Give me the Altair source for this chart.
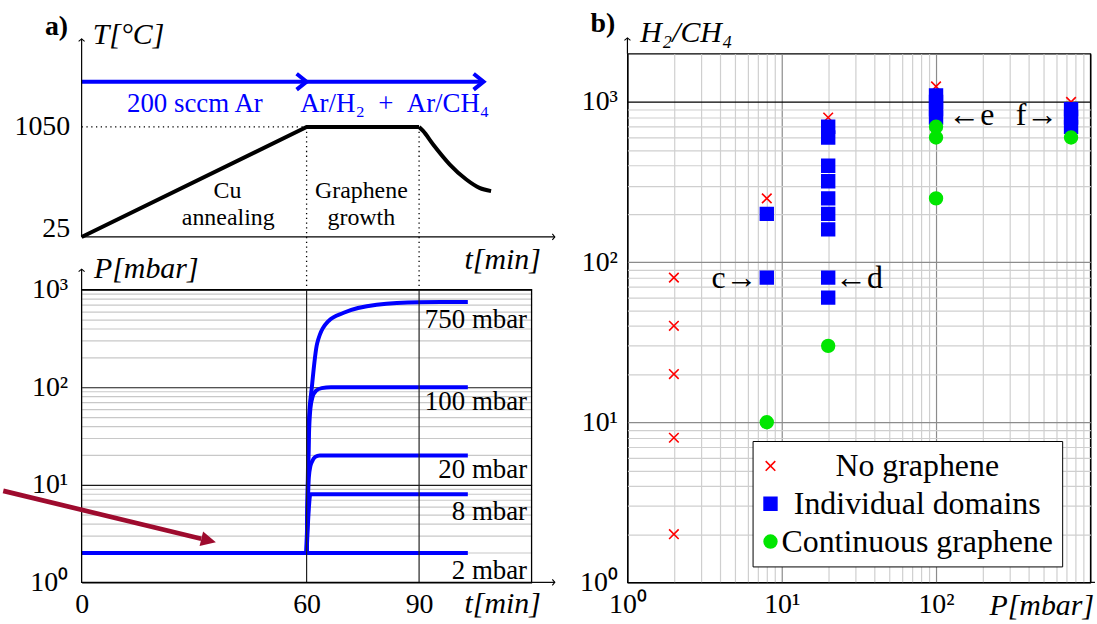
import altair as alt
import pandas as pd

FONT = "Liberation Serif"
BLUE = "#0000ff"
RED = "#ff0000"
GREEN = "#00e600"
DARKRED = "#9e0b2e"
FS = 28

# ---------------- panel a), temperature programme
ramp_t = [0, 60, 90]
ramp_T = [25, 1050, 1050]
cool_t = [90, 91, 93.8, 98.2, 102.6, 106.1, 109.2]
cool_T = [1050, 1015, 885, 700, 560, 482, 452]
T_ticks = [25, 1050]
phase_t = [60, 90]
gas_t = [0, 60, 107.2]
gas_T = 1472
gas_labels = ["200 sccm Ar", "Ar/H\u2082\u2002+\u2002Ar/CH\u2084"]
gas_label_t = [30.2, 83.5]
phase_labels = ["Cu", "annealing", "Graphene", "growth"]
phase_label_t = [38.9, 39.1, 74.6, 74.6]
phase_label_T = [387, 136, 387, 136]

# ---------------- panel a), chamber pressure
p_series = {
    "2": ([0, 103], [2, 2]),
    "8": ([60, 60.5, 61, 103], [2, 5, 8, 8]),
    "20": ([60, 60.3, 60.6, 61.0, 61.5, 62.3, 63.5, 103], [2, 6, 12, 15.5, 17.5, 19.3, 20, 20]),
    "100": ([60, 60.3, 60.6, 61.0, 61.6, 62.5, 64.0, 66.5, 103], [2, 8, 30, 60, 80, 92, 98, 100, 100]),
    "750": ([60, 60.3, 60.6, 61.4, 62.8, 65.9, 69.9, 78.7, 90, 103],
            [2, 10, 45, 100, 280, 480, 580, 700, 745, 750]),
}
p_labels = ["750 mbar", "100 mbar", "20 mbar", "8 mbar", "2 mbar"]
p_label_P = [409, 58.2, 11.8, 4.40, 1.074]
t_ticks = [0, 60, 90]
red_arrow_t = [-20.9, 31.9]
red_arrow_P = [8.67, 2.80]
red_tip_t, red_tip_P = 35.8, 2.58

# ---------------- panel b), growth map
kinds = ["No graphene", "Individual domains", "Continuous graphene"]
no_P = [2, 2, 2, 2, 2, 8, 20, 100, 750]
no_R = [80, 40, 20, 8, 2, 250, 800, 1250, 1000]
dom_P = [8, 8, 20, 20, 20, 20, 20, 20, 20, 20, 20, 100, 100, 100, 100, 750, 750, 750]
dom_R = [200, 80, 700, 600, 400, 320, 250, 200, 160, 80, 60, 1100, 1000, 900, 800, 900, 800, 700]
cont_P = [8, 20, 100, 100, 100, 750]
cont_R = [10, 30, 700, 600, 250, 600]

log_grid = [m * 10 ** e for e in range(3) for m in range(1, 10)] + [1000]
SUP = {1: "10\u2070", 10: "10\u00b9", 100: "10\u00b2", 1000: "10\u00b3"}


def sup_expr(keys):
    return " : ".join(f"datum.value == {k} ? '{SUP[k]}'" for k in keys) + " : ''"


W_L, H_L = 452, 531
W_R, H_R = 465, 531

x_t = alt.Scale(domain=[0, 120], nice=False, zero=False)
y_T = alt.Scale(domain=[25, 1732], nice=False, zero=False, range=[184, 0])
y_P = alt.Scale(type="log", domain=[1, 1000], nice=False, range=[531, 237])
x_R = alt.Scale(type="log", domain=[1, 1000], nice=False)
y_R = alt.Scale(type="log", domain=[1, 2000], nice=False)

CHEV = "M-1,-0.8L0,0L-1,0.8"
AXHEAD = "M-1,-1.2L0,0L-1,1.2"
TRI = "M0,0L-1,-0.5L-1,0.5Z"


def enc_xy(xf, yf, xsc, ysc, y_off):
    # left column: y scales are independent, so secondary layers carry no y axis;
    # x (and both axes on the right) are shared and merge with the primary layer's axis.
    y = alt.Y(f"{yf}:Q", scale=ysc, axis=None) if y_off else alt.Y(f"{yf}:Q", scale=ysc)
    return dict(x=alt.X(f"{xf}:Q", scale=xsc), y=y)


def txt(xs, ys, labels, xf, yf, xsc, ysc, y_off, **kw):
    df = pd.DataFrame({xf: xs, yf: ys, "label": labels})
    props = dict(font=FONT, fontSize=FS, color="black", baseline="alphabetic")
    props.update(kw)
    return alt.Chart(df).mark_text(**props).encode(text="label:N", **enc_xy(xf, yf, xsc, ysc, y_off))


def seg(data, xf, yf, xsc, ysc, y_off, x2=None, y2=None, **kw):
    enc = enc_xy(xf, yf, xsc, ysc, y_off)
    if x2:
        enc["x2"] = alt.X2(f"{x2}:Q")
    if y2:
        enc["y2"] = alt.Y2(f"{y2}:Q")
    return alt.Chart(pd.DataFrame(data)).mark_rule(**kw).encode(**enc)


def heads(xs, ys, xf, yf, xsc, ysc, y_off, **kw):
    df = pd.DataFrame({xf: xs, yf: ys})
    return alt.Chart(df).mark_point(opacity=1, **kw).encode(**enc_xy(xf, yf, xsc, ysc, y_off))


def grid_color(major, edge="black", minor="#c8c8c8"):
    return {"condition": [
        {"test": "datum.value == 1 || datum.value == 1000", "value": edge},
        {"test": "datum.value == 10 || datum.value == 100", "value": major}],
        "value": minor}


lab = dict(labelFont=FONT, labelFontSize=FS, labelColor="black", domain=False, ticks=False,
           labelFlush=False, labelOverlap=False, title=None)

# ================= left column, upper part: temperature
ramp = alt.Chart(pd.DataFrame({"t": ramp_t, "T": ramp_T})).mark_line(
    color="black", strokeWidth=4).encode(
    x=alt.X("t:Q", scale=x_t),
    y=alt.Y("T:Q", scale=y_T, axis=alt.Axis(
        values=T_ticks, format="d", grid=False, labelPadding=12, orient="left",
        labelBaseline={"condition": {"test": "datum.value == 25", "value": "alphabetic"}, "value": "middle"},
        **lab)))
cool = alt.Chart(pd.DataFrame({"t": cool_t, "T": cool_T})).mark_line(
    color="black", strokeWidth=4, interpolate="monotone").encode(**enc_xy("t", "T", x_t, y_T, True))
dot_h = seg({"t": [0], "t2": [60], "T": [1050]}, "t", "T", x_t, y_T, True, x2="t2",
            color="black", strokeWidth=1.3, strokeDash=[1.3, 3.5])
dot_v = seg({"t": phase_t, "T": [1050, 1050], "T2": [-467, -467]}, "t", "T", x_t, y_T, True, y2="T2",
            color="black", strokeWidth=1.3, strokeDash=[1.3, 3.5])
gas = seg({"t": gas_t[:-1], "t2": gas_t[1:], "T": [gas_T, gas_T]}, "t", "T", x_t, y_T, True, x2="t2",
          color=BLUE, strokeWidth=4)
gas_heads = heads(gas_t[1:], [gas_T, gas_T], "t", "T", x_t, y_T, True, shape=CHEV, size=400,
                  filled=False, color=BLUE, strokeWidth=4)
ax_x = seg({"t": [0], "t2": [126.2], "T": [25]}, "t", "T", x_t, y_T, True, x2="t2",
           color="black", strokeWidth=1.2)
ax_y = seg({"t": [0], "T": [25], "T2": [1871]}, "t", "T", x_t, y_T, True, y2="T2",
           color="black", strokeWidth=1.2)
ax_hx = heads([126.2], [25], "t", "T", x_t, y_T, True, shape=AXHEAD, size=25, filled=False,
              color="black", strokeWidth=1.1)
ax_hy = heads([0], [1871], "t", "T", x_t, y_T, True, shape=AXHEAD, size=25, angle=270, filled=False,
              color="black", strokeWidth=1.1)
gas_txt = txt(gas_label_t, [1194, 1194], gas_labels, "t", "T", x_t, y_T, True, color=BLUE, fontSize=27)
phase_txt = txt(phase_label_t, phase_label_T, phase_labels, "t", "T", x_t, y_T, True, fontSize=24)
tl_labels = txt([2.95, 102.1], [1824, -272], ["T[\u00b0C]", "t[min]"], "t", "T", x_t, y_T, True,
                align="left", fontStyle="italic", fontSize=30)
a_lab = txt([-3.6], [1908], ["a)"], "t", "T", x_t, y_T, True, align="right", fontWeight="bold")

# ================= left column, lower part: pressure
rows = []
for s, (ts, ps) in p_series.items():
    for t, p in zip(ts, ps):
        rows.append({"t": t, "P": p, "s": s})
press = alt.Chart(pd.DataFrame(rows)).mark_line(
    color=BLUE, strokeWidth=4, interpolate="monotone").encode(
    x=alt.X("t:Q", scale=x_t, axis=alt.Axis(values=t_ticks, grid=False, labelPadding=8,
                                             labelAngle=0, orient="bottom", **lab)),
    y=alt.Y("P:Q", scale=y_P, axis=alt.Axis(values=log_grid, labelExpr=sup_expr([1, 10, 100, 1000]),
                                             grid=True, gridColor=grid_color("#1a1a1a"), gridWidth=1.2,
                                             labelPadding=14, orient="left", **lab)),
    detail="s:N")
t_grid = seg({"t": t_ticks[1:], "P": [1, 1], "P2": [1000, 1000]}, "t", "P", x_t, y_P, True, y2="P2",
             color="#222", strokeWidth=1.2)
frame = alt.Chart(pd.DataFrame({"t": [0], "t2": [120], "P": [1], "P2": [1000]})).mark_rect(
    fill="transparent", stroke="black", strokeWidth=1.3).encode(
    x2="t2:Q", y2="P2:Q", **enc_xy("t", "P", x_t, y_P, True))
red_line = alt.Chart(pd.DataFrame({"t": red_arrow_t, "P": red_arrow_P})).mark_line(
    color=DARKRED, strokeWidth=4.7, strokeJoin="round").encode(**enc_xy("t", "P", x_t, y_P, True))
red_head = heads([red_tip_t], [red_tip_P], "t", "P", x_t, y_P, True, shape=TRI, size=900, angle=13.57,
                 filled=True, color=DARKRED, strokeWidth=0)
bax_y = seg({"t": [0], "P": [1000], "P2": [1626]}, "t", "P", x_t, y_P, True, y2="P2",
            color="black", strokeWidth=1.2)
bax_x = seg({"t": [120], "t2": [126.2], "P": [1]}, "t", "P", x_t, y_P, True, x2="t2",
            color="black", strokeWidth=1.2)
bax_hy = heads([0], [1626], "t", "P", x_t, y_P, True, shape=AXHEAD, size=25, angle=270, filled=False,
               color="black", strokeWidth=1.1)
bax_hx = heads([126.2], [1], "t", "P", x_t, y_P, True, shape=AXHEAD, size=25, filled=False,
               color="black", strokeWidth=1.1)
p_txt = txt([118.8] * 5, p_label_P, p_labels, "t", "P", x_t, y_P, True, align="right", fontSize=27)
bl_labels = txt([3.3, 102.1], [1325, 0.483], ["P[mbar]", "t[min]"], "t", "P", x_t, y_P, True,
                align="left", fontStyle="italic", fontSize=30)

left = alt.layer(
    ramp, cool, dot_h, dot_v, gas, gas_heads, ax_x, ax_y, ax_hx, ax_hy, gas_txt, phase_txt, tl_labels, a_lab,
    press, t_grid, frame, red_line, red_head, bax_y, bax_x, bax_hy, bax_hx, p_txt, bl_labels,
).resolve_scale(y="independent").properties(width=W_L, height=H_L)

# ================= right: growth map
pts = pd.DataFrame({
    "P": no_P + dom_P + cont_P,
    "R": no_R + dom_R + cont_R,
    "kind": [kinds[0]] * len(no_P) + [kinds[1]] * len(dom_P) + [kinds[2]] * len(cont_P),
})
legend = alt.Legend(title=None, orient="none", legendX=674, legendY=389, padding=9, rowPadding=6,
                    labelFont=FONT, labelFontSize=32, labelColor="black", labelAlign="center",
                    labelOffset=131.4, labelLimit=500, strokeColor="black", fillColor="white",
                    symbolSize=165, symbolStrokeWidth=1.6, symbolOffset=-7)
col_scale = alt.Scale(domain=kinds, range=[RED, BLUE, GREEN])
points = alt.Chart(pts).mark_point(filled=True, size=165, strokeWidth=1.6, opacity=1).encode(
    x=alt.X("P:Q", scale=x_R, axis=alt.Axis(values=log_grid, labelExpr=sup_expr([1, 10, 100]), grid=True,
                                             gridColor=grid_color("#8c8c8c", minor="#cfcfcf"),
                                             gridWidth=1.2, labelPadding=8, labelAngle=0, **lab)),
    y=alt.Y("R:Q", scale=y_R, axis=alt.Axis(values=log_grid, labelExpr=sup_expr([1, 10, 100, 1000]),
                                             grid=True, gridColor=grid_color("#8c8c8c", minor="#cfcfcf"),
                                             gridWidth=1.2, labelPadding=10, **lab)),
    fill=alt.Fill("kind:N", scale=col_scale, legend=legend),
    stroke=alt.Stroke("kind:N", scale=col_scale, legend=legend),
    shape=alt.Shape("kind:N", scale=alt.Scale(domain=kinds, range=[
        "M-0.75,-0.75L0.75,0.75M-0.75,0.75L0.75,-0.75", "square", "circle"]), legend=legend),
)
rax_y = seg({"P": [1], "R": [2000], "R2": [2512]}, "P", "R", x_R, y_R, False, y2="R2",
            color="black", strokeWidth=1.2)
rax_x = seg({"P": [1000], "P2": [1072], "R": [1]}, "P", "R", x_R, y_R, False, x2="P2",
            color="black", strokeWidth=1.2)
rax_hy = heads([1], [2512], "P", "R", x_R, y_R, False, shape=AXHEAD, size=25, angle=270, filled=False,
               color="black", strokeWidth=1.1)
r_labels = txt([1.21, 222], [2360, 0.624], ["H\u2082/CH\u2084", "P[mbar]"], "P", "R", x_R, y_R, False,
               align="left", fontStyle="italic", fontSize=30)
b_lab = txt([0.833], [2724], ["b)"], "P", "R", x_R, y_R, False, align="right", fontWeight="bold")
ann_r = txt([6.97, 619.6], [80, 830], ["c\u2192", "f\u2192"], "P", "R", x_R, y_R, False,
            align="right", baseline="middle", fontSize=32)
ann_l = txt([22.2, 120.3], [80, 830], ["\u2190d", "\u2190e"], "P", "R", x_R, y_R, False,
            align="left", baseline="middle", fontSize=32)

right = alt.layer(points, rax_y, rax_x, rax_hy, r_labels, b_lab, ann_r, ann_l).properties(
    width=W_R, height=H_R, view=alt.ViewBackground(stroke="black", strokeWidth=1.3))

chart = alt.hconcat(left, right, spacing=96.3, bounds="flush").properties(
    padding={"left": 0, "top": 7.6, "right": 0, "bottom": 0}, background="white"
).configure_view(stroke="transparent")

chart.save("out.html", embed_options={"renderer": "svg", "actions": False})
